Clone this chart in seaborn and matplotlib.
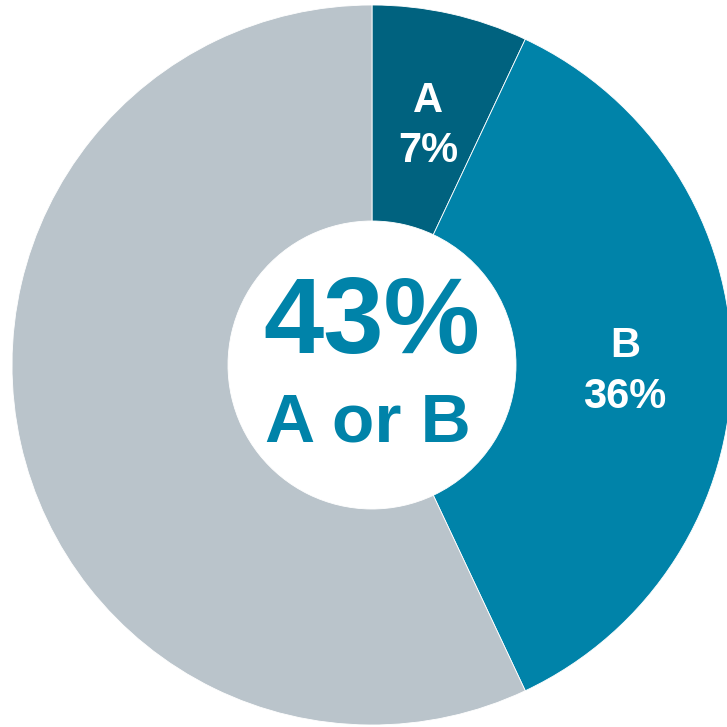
import matplotlib
matplotlib.use("Agg")
import matplotlib.pyplot as plt
import seaborn as sns

categories = ["A", "B", "Other"]
shares = [7, 36, 57]
center_caption = "A or B"

sns.set_theme(style="white")
plt.rcParams["font.family"] = ["Liberation Sans", "DejaVu Sans"]

colors = ["#00627F", "#0083A9", "#BAC4CB"]
text_color = "#0083A9"

W = 727
fig = plt.figure(figsize=(7.27, 7.27), dpi=100)
ax = fig.add_axes([0, 0, 1, 1])
cx, cy = 372, 365  # pixel center
R = 360
hole = 144

ax.pie(shares, colors=colors, radius=R, startangle=90, counterclock=False,
       wedgeprops=dict(width=R - hole, edgecolor="white", linewidth=0.6),
       center=(0, 0))
ax.set_xlim(-cx, W - cx)
ax.set_ylim(cy - W, cy)
ax.set_aspect("equal")
ax.axis("off")

def P(xp, yp):
    return xp - cx, cy - yp

# slice labels
lab_pos = {"A": (428, 112, 162), "B": (625, 357, 408)}
for cat, val in zip(categories[:2], shares[:2]):
    xp, y1, y2 = lab_pos[cat]
    ax.text(*P(xp, y1), cat, ha="center", va="baseline", color="white",
            fontsize=30, fontweight="bold")
    ax.text(*P(xp, y2), f"{val}%", ha="center", va="baseline", color="white",
            fontsize=30, fontweight="bold")

total = shares[0] + shares[1]
ax.text(*P(372, 353), f"{total}%", ha="center", va="baseline", color=text_color,
        fontsize=78, fontweight="bold")
ax.text(*P(368, 442), center_caption, ha="center", va="baseline", color=text_color,
        fontsize=50, fontweight="bold")

fig.savefig("out.png", dpi=100, facecolor="white")
